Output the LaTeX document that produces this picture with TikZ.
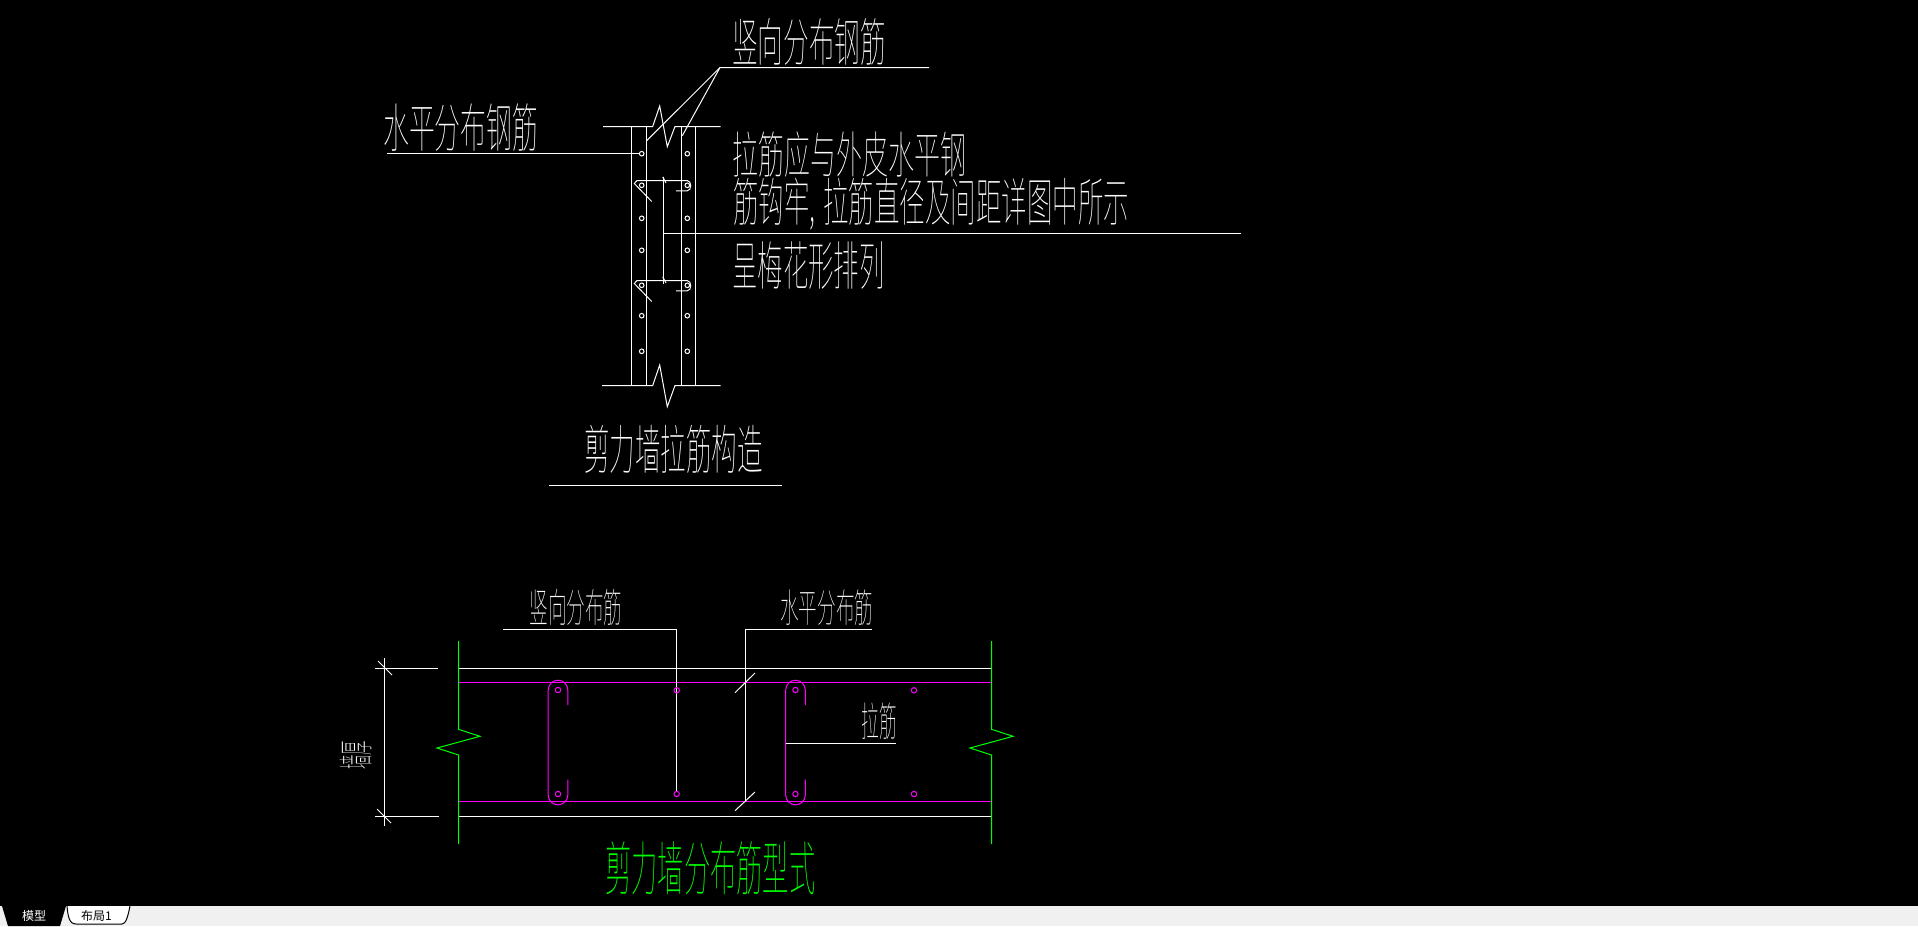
\documentclass[tikz,border=0pt]{standalone}
\usepackage{fontspec}
\usepackage{graphicx}
\setmainfont{Liberation Sans}
\newfontfamily\cjk{Noto Sans CJK SC Thin}
\newfontfamily\cjktab{Noto Sans CJK SC}
\definecolor{cadmagenta}{RGB}{255,0,255}
\definecolor{cadgreen}{RGB}{0,255,0}
\definecolor{tabband}{RGB}{240,240,240}
\newcommand*{\CadText}[3]{\resizebox*{\dimexpr#1pt*3/4\relax}{\dimexpr#2pt*3/4\relax}{#3}}
\tikzset{
    cadline/.style={white, line width=0.75pt},
    cadpink/.style={cadmagenta, line width=0.75pt},
    cadwall/.style={cadgreen, line width=0.75pt},
    cadlabel/.style={anchor=north west, inner sep=0pt, text=white, font=\cjk},
    tablabel/.style={inner sep=0pt, font=\cjktab\fontsize{9}{9}\selectfont}
}

\begin{document}
\begin{tikzpicture}[x=0.75pt, y=-0.75pt]
    \useasboundingbox (0,0) rectangle (1918,926);
    \fill[black] (0,0) rectangle (1918,926);

    \draw[cadline] (603,126.5) -- (652.7,126.5) -- (659.7,106) -- (667.3,146.7) -- (675,126.5) -- (720.7,126.5);
    \draw[cadline] (602,385.5) -- (652.7,385.5) -- (659.7,365) -- (667.3,406.7) -- (675,385.5) -- (720.7,385.5);
    \foreach \x in {631.5,646.5,681.5,695.5}
        \draw[cadline] (\x,126.5) -- (\x,385.5);
    \foreach \y in {153.7,185.3,218.3,250.3,285.3,315.7,351.3} {
        \draw[cadline] (641.7,\y) circle (2.3);
        \draw[cadline] (687.3,\y) circle (2.3);
    }
    \foreach \y in {180.5,280.5} {
        \draw[cadline] (651.7,\y+21) -- (634.3,\y+3) -- (637,\y) -- (687,\y) .. controls (692,\y) and (692,\y+10.4) .. (687,\y+10.4) -- (676,\y+10.4);
        \draw[cadline] (662.7,\y-3.6) -- (666,\y+2.4);
    }
    \draw[cadline] (663.5,176.7) -- (663.5,284.3);
    \draw[cadline] (663.5,233.5) -- (1241,233.5);
    \draw[cadline] (929,67.5) -- (720,67.5) -- (646.7,140.7);
    \draw[cadline] (720,67.5) -- (682.3,135.7);
    \draw[cadline] (387.3,153.5) -- (639.4,153.5);
    \draw[cadline] (549,485.5) -- (781.7,485.5);

    \node[cadlabel] (vertbarlabel) at (732,18.3) {\CadText{154}{47}{竖向分布钢筋}};
    \node[cadlabel] (horbarlabel) at (383,104) {\CadText{155}{47.7}{水平分布钢筋}};
    \node[cadlabel] (tienotea) at (732,131.7) {\CadText{234}{45.5}{拉筋应与外皮水平钢}};
    \node[cadlabel] (tienoteb) at (733,178) {\CadText{396}{52}{筋钩牢,\hspace{0.3em}拉筋直径及间距详图中所示}};
    \node[cadlabel] (tienotec) at (732,241.7) {\CadText{152.5}{47.6}{呈梅花形排列}};
    \node[cadlabel] (toptitle) at (584,425) {\CadText{178.5}{48.3}{剪力墙拉筋构造}};

    \draw[cadline] (375,668.5) -- (438,668.5);
    \draw[cadline] (375,816.5) -- (439,816.5);
    \draw[cadline] (384.5,658.3) -- (384.5,825.7);
    \draw[cadline] (378,661) -- (392,675);
    \draw[cadline] (377,809) -- (391,823);
    \foreach \y in {668.5,816.5}
        \draw[cadline] (458.5,\y) -- (991.5,\y);
    \foreach \y in {682.5,801.5}
        \draw[cadpink] (458.5,\y) -- (991.5,\y);
    \foreach \x in {458.5,991.5}
        \draw[cadwall] (\x,641) -- (\x,729.3) -- (\x+21.5,736.3) -- (\x-21.5,748) -- (\x,755) -- (\x,844);

    \foreach \x in {558,795.5} {
        \draw[cadpink] (\x+9.8,705) -- (\x+9.8,690) arc (0:-180:9.8) -- (\x-9.8,795) arc (180:0:9.8) -- (\x+9.8,779.5);
        \draw[cadpink] (\x,690) circle (2.7);
        \draw[cadpink] (\x,794) circle (2.7);
    }
    \draw[cadline] (503.3,629.5) -- (676.5,629.5) -- (676.5,791.3);
    \draw[cadline] (871.7,629.5) -- (745.5,629.5) -- (745.5,801.5);
    \foreach \x in {676.7,914} {
        \draw[cadpink] (\x,690.3) circle (2.7);
        \draw[cadpink] (\x,794) circle (2.7);
    }
    \draw[cadline] (735,692.7) -- (755,673);
    \draw[cadline] (735,810.7) -- (755,792);
    \draw[cadline] (785.7,743.5) -- (895.7,743.5);

    \node[cadlabel] (vertdistlabel) at (529.3,589.3) {\CadText{93}{36.4}{竖向分布筋}};
    \node[cadlabel] (hordistlabel) at (780,590) {\CadText{93}{35.7}{水平分布筋}};
    \node[cadlabel] (tielabel) at (861,702.7) {\CadText{35.5}{36.6}{拉筋}};
    \node[cadlabel, rotate=90] (thicklabel) at (340,770) {\CadText{29}{32}{墙厚}};
    \node[cadlabel, text=cadgreen] (bottomtitle) at (605,841.7) {\CadText{210}{53.3}{剪力墙分布筋型式}};

    \fill[tabband] (0,906) rectangle (1918,926);
    \fill[black] (2,906) -- (8,926) -- (60,926) -- (66,906) -- cycle;
    \draw[fill=white, line width=0.75pt] (67,906) .. controls (68,916) and (69,924) .. (76,924) -- (122,924) .. controls (126,924) and (128,916) .. (130,906);
    \node[tablabel, text=white] (modeltab) at (34,915.5) {模型};
    \node[tablabel, text=black] (layouttab) at (96.5,915.5) {布局1};
\end{tikzpicture}
\end{document}
